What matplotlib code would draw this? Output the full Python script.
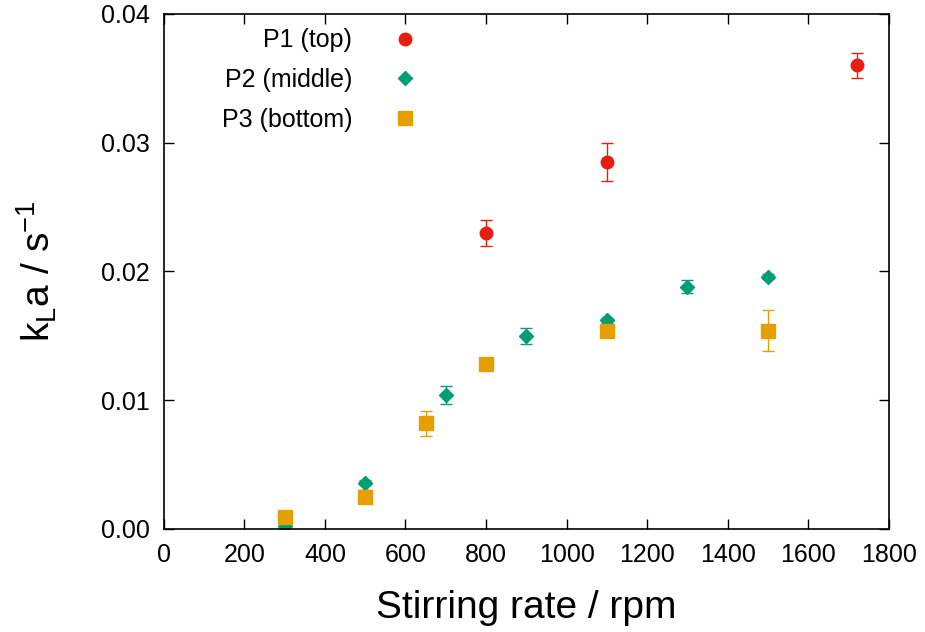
import numpy as np
import matplotlib.pyplot as plt

plt.rcParams['font.family'] = ['Liberation Sans', 'DejaVu Sans']
plt.rcParams['mathtext.fontset'] = 'custom'
plt.rcParams['mathtext.rm'] = 'Liberation Sans'
plt.rcParams['mathtext.it'] = 'Liberation Sans'

# P1 (top)
rpm_p1 = [300, 500, 800, 1100, 1720]
kla_p1 = [0.0008, 0.0026, 0.0230, 0.0285, 0.0360]
err_p1 = [0.0002, 0.0004, 0.0010, 0.0015, 0.0010]

# P2 (middle)
rpm_p2 = [300, 500, 700, 900, 1100, 1300, 1500]
kla_p2 = [0.0002, 0.0036, 0.0104, 0.0150, 0.0162, 0.0188, 0.0196]
err_p2 = [0.0001, 0.0002, 0.0007, 0.0006, 0.0002, 0.0005, 0.0002]

# P3 (bottom)
rpm_p3 = [300, 500, 650, 800, 1100, 1500]
kla_p3 = [0.0009, 0.0025, 0.0082, 0.0128, 0.0154, 0.0154]
err_p3 = [0.0002, 0.0003, 0.0010, 0.0002, 0.0003, 0.0016]

fig = plt.figure(figsize=(9.25, 6.32), dpi=100)
ax = fig.add_axes([0.177, 0.163, 0.784, 0.815])

series = [
    (rpm_p1, kla_p1, err_p1, '#e51e10', 'o', 9, 'P1 (top)'),
    (rpm_p2, kla_p2, err_p2, '#009e73', 'D', 7, 'P2 (middle)'),
    (rpm_p3, kla_p3, err_p3, '#e69f00', 's', 9.5, 'P3 (bottom)'),
]
for x, y, e, c, m, ms, lab in series:
    ax.errorbar(x, y, yerr=e, fmt='none', ecolor=c, elinewidth=1, capsize=4, capthick=1)
    ax.plot(x, y, linestyle='none', marker=m, markersize=ms, color=c, label=lab)

ax.set_xlim(0, 1800)
ax.set_ylim(0, 0.04)
ax.set_xticks(np.arange(0, 1801, 200))
ax.set_yticks([0.0, 0.01, 0.02, 0.03, 0.04])
ax.set_yticklabels(['0.00', '0.01', '0.02', '0.03', '0.04'])
ax.tick_params(direction='in', top=True, right=True, length=7, width=1, labelsize=18, pad=10)
for s in ax.spines.values():
    s.set_linewidth(1.2)

ax.set_xlabel('Stirring rate / rpm', fontsize=28, labelpad=17)
ax.set_ylabel(r'k$_\mathregular{L}$a / s$^{-1}$', fontsize=28, labelpad=30)

ax.legend(loc='upper right', bbox_to_anchor=(0.398, 1.0155), frameon=False, markerfirst=False,
          fontsize=18, handletextpad=1.1, labelspacing=0.63)

fig.savefig('out.png', dpi=100)
